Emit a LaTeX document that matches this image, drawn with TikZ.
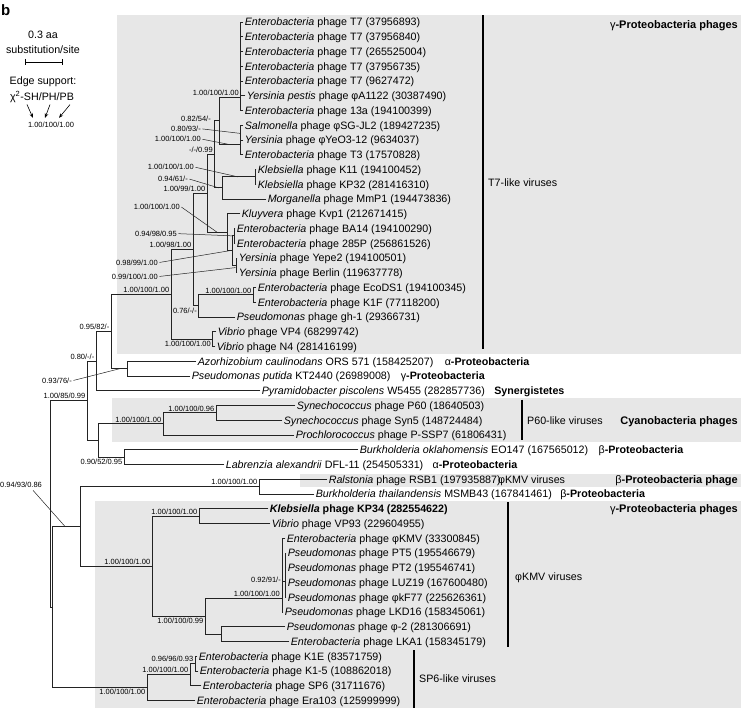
\documentclass[tikz,border=0pt]{standalone}
\usepackage{fontspec}
\setmainfont{Liberation Sans}
\usetikzlibrary{arrows.meta}
\definecolor{boxgray}{RGB}{231,231,231}
\definecolor{brc}{RGB}{35,35,35}
\newcommand\lfnode[5]{%
  \coordinate (#1) at (#3,#4);
  \draw[br] (#2) |- (#1);
  \node[leaf] (#1t) at ([xshift=1.6pt]#1) {#5};}
\begin{document}
\begin{tikzpicture}[x=1pt, y=-14.75pt,
  br/.style={draw=brc, line width=0.9pt, line cap=rect},
  ld/.style={draw=brc, line width=0.5pt},
  leaf/.style={anchor=base west, inner sep=0pt, yshift=-3.8pt, font=\fontsize{10.7}{12}\selectfont},
  sa/.style={anchor=base east, inner sep=0pt, yshift=1.8pt, font=\fontsize{7.5}{8}\selectfont},
  sb/.style={anchor=base east, inner sep=0pt, yshift=-7.3pt, font=\fontsize{7.5}{8}\selectfont},
  sc/.style={anchor=east, inner sep=0pt, font=\fontsize{7.5}{8}\selectfont},
  tax/.style={anchor=base west, inner sep=0pt, font=\fontsize{10.7}{12}\selectfont\bfseries},
  grp/.style={anchor=base east, inner sep=0pt, yshift=-3.8pt, font=\fontsize{11}{12}\selectfont\bfseries},
  vir/.style={anchor=base west, inner sep=0pt, yshift=-3.8pt, font=\fontsize{10.7}{12}\selectfont},
  vir2/.style={anchor=base west, inner sep=0pt, font=\fontsize{10.7}{12}\selectfont},
  bar/.style={draw=black, line width=1.9pt},
  leg/.style={inner sep=0pt, font=\fontsize{10.7}{12}\selectfont}]
\path[use as bounding box] (0,-1.4915) rectangle (741,46.508);
% grey panels
\fill[boxgray] (117,-0.475) rectangle (741,22.5);
\fill[boxgray] (112,25.5) rectangle (741,28.45);
\fill[boxgray] (300,30.65) rectangle (741,31.5);
\fill[boxgray] (95,32.5) rectangle (741,46.508);
% legend
\node[anchor=base west, inner sep=0pt, font=\fontsize{15}{16}\selectfont\bfseries] (pb) at (1,-0.45) {b};
\node[leg] (sc1) at (43,0.88) {0.3 aa};
\node[leg] (sc2) at (43,1.9) {substitution/site};
\coordinate (sbL) at (25,2.71); \coordinate (sbR) at (62,2.71);
\draw[line width=0.9pt] (sbL) -- (sbR);
\draw[line width=0.9pt] ([yshift=3pt]sbL) -- ([yshift=-3pt]sbL);
\draw[line width=0.9pt] ([yshift=3pt]sbR) -- ([yshift=-3pt]sbR);
\node[leg] (es1) at (43,4.07) {Edge support:};
\node[leg] (es2) at (42,5.08) {χ\textsuperscript{2}-SH/PH/PB};
\node[inner sep=0pt, font=\fontsize{7.5}{8}\selectfont] (es3) at (51,6.98) {1.00/100/1.00};
\coordinate (a1s) at (27,5.6); \coordinate (a1e) at (33,6.5);
\coordinate (a2s) at (50,5.6); \coordinate (a2e) at (45,6.5);
\coordinate (a3s) at (70,5.6); \coordinate (a3e) at (59,6.5);
\foreach \p in {1,2,3}{\draw[line width=0.6pt, -{Stealth[length=4.5pt,width=3.5pt]}] (a\p s) -- (a\p e);}
% internal nodes
\coordinate (B1) at (50,32.67);
\coordinate (A3) at (87,25.68);
\coordinate (A2) at (96,22.99);
\coordinate (A1) at (111,20.983);
\coordinate (R) at (171,18.466);
\coordinate (X) at (193,15.431);
\coordinate (Y) at (207,11.6125);
\coordinate (Z) at (214,8.975);
\coordinate (N1) at (219,6.7);
\coordinate (T7g) at (240,5.1);
\coordinate (Bc) at (240,8.3);
\coordinate (KM) at (222,11.25);
\coordinate (Kp) at (255,10.5);
\coordinate (K) at (227,14.25);
\coordinate (BA) at (232,15.5);
\coordinate (BAp) at (234,14.5);
\coordinate (YBp) at (236,16.5);
\coordinate (L) at (198,19.25);
\coordinate (EKp) at (253,18.5);
\coordinate (Vp) at (212,21.5);
\coordinate (AP) at (127,23.5);
\coordinate (A4) at (98,28.375);
\coordinate (P60c) at (163,27.25);
\coordinate (PSp) at (216,26.5);
\coordinate (BLp) at (124,29.5);
\coordinate (B2) at (52,39.66);
\coordinate (E) at (80,34.2);
\coordinate (RSp) at (259,31.5);
\coordinate (C) at (152,36.9);
\coordinate (KVp) at (199,33.5);
\coordinate (D) at (205,40.3);
\coordinate (G) at (282,39.1);
\coordinate (H) at (285,37.9);
\coordinate (FLp) at (221,41.5);
\coordinate (S) at (147,45.125);
\coordinate (T) at (190,44.25);
\coordinate (Pp) at (195,43.5);
% internal edges
\foreach \a/\b in {B1/A3,B1/B2,A3/A2,A3/A4,A2/A1,A1/R,A1/AP,R/X,R/Vp,X/Y,X/L,Y/Z,Y/K,Z/N1,Z/KM,N1/T7g,N1/Bc,KM/Kp,K/BA,BA/BAp,BA/YBp,L/EKp,A4/P60c,A4/BLp,P60c/PSp,B2/E,B2/S,E/RSp,E/C,C/KVp,C/D,D/G,D/FLp,G/H,S/T,T/Pp}
  {\draw[br] (\a) |- (\b);}
% leaves
\lfnode{l0}{T7g}{243}{0}{\textit{Enterobacteria} phage T7 (37956893)}
\lfnode{l1}{T7g}{243}{1}{\textit{Enterobacteria} phage T7 (37956840)}
\lfnode{l2}{T7g}{243}{2}{\textit{Enterobacteria} phage T7 (265525004)}
\lfnode{l3}{T7g}{243}{3}{\textit{Enterobacteria} phage T7 (37956735)}
\lfnode{l4}{T7g}{243}{4}{\textit{Enterobacteria} phage T7 (9627472)}
\lfnode{l5}{T7g}{245}{5}{\textit{Yersinia pestis} phage φA1122 (30387490)}
\lfnode{l6}{T7g}{243}{6}{\textit{Enterobacteria} phage 13a (194100399)}
\lfnode{l7}{Bc}{243}{7}{\textit{Salmonella} phage φSG-JL2 (189427235)}
\lfnode{l8}{Bc}{243}{8}{\textit{Yersinia} phage φYeO3-12 (9634037)}
\lfnode{l9}{Bc}{243}{9}{\textit{Enterobacteria} phage T3 (17570828)}
\lfnode{l10}{Kp}{256}{10}{\textit{Klebsiella} phage K11 (194100452)}
\lfnode{l11}{Kp}{256}{11}{\textit{Klebsiella} phage KP32 (281416310)}
\lfnode{l12}{KM}{266}{12}{\textit{Morganella} phage MmP1 (194473836)}
\lfnode{l13}{K}{240}{13}{\textit{Kluyvera} phage Kvp1 (212671415)}
\lfnode{l14}{BAp}{235}{14}{\textit{Enterobacteria} phage BA14 (194100290)}
\lfnode{l15}{BAp}{235}{15}{\textit{Enterobacteria} phage 285P (256861526)}
\lfnode{l16}{YBp}{237}{16}{\textit{Yersinia} phage Yepe2 (194100501)}
\lfnode{l17}{YBp}{237}{17}{\textit{Yersinia} phage Berlin (119637778)}
\lfnode{l18}{EKp}{256}{18}{\textit{Enterobacteria} phage EcoDS1 (194100345)}
\lfnode{l19}{EKp}{256}{19}{\textit{Enterobacteria} phage K1F (77118200)}
\lfnode{l20}{L}{235}{20}{\textit{Pseudomonas} phage gh-1 (29366731)}
\lfnode{l21}{Vp}{216}{21}{\textit{Vibrio} phage VP4 (68299742)}
\lfnode{l22}{Vp}{215}{22}{\textit{Vibrio} phage N4 (281416199)}
\lfnode{l23}{AP}{196}{23}{\textit{Azorhizobium caulinodans} ORS 571 (158425207)}
\lfnode{l24}{AP}{190}{24}{\textit{Pseudomonas putida} KT2440 (26989008)}
\lfnode{l25}{A2}{260}{25}{\textit{Pyramidobacter piscolens} W5455 (282857736)}
\lfnode{l26}{PSp}{295}{26}{\textit{Synechococcus} phage P60 (18640503)}
\lfnode{l27}{PSp}{282}{27}{\textit{Synechococcus} phage Syn5 (148724484)}
\lfnode{l28}{P60c}{294}{28}{\textit{Prochlorococcus} phage P-SSP7 (61806431)}
\lfnode{l29}{BLp}{358}{29}{\textit{Burkholderia oklahomensis} EO147 (167565012)}
\lfnode{l30}{BLp}{224}{30}{\textit{Labrenzia alexandrii} DFL-11 (254505331)}
\lfnode{l31}{RSp}{327}{31}{\textit{Ralstonia} phage RSB1 (197935887)}
\lfnode{l32}{RSp}{314}{32}{\textit{Burkholderia thailandensis} MSMB43 (167841461)}
\lfnode{l33}{KVp}{268}{33}{\textbf{\textit{Klebsiella} phage KP34 (282554622)}}
\lfnode{l34}{KVp}{270}{34}{\textit{Vibrio} phage VP93 (229604955)}
\lfnode{l35}{G}{285}{35}{\textit{Enterobacteria} phage φKMV (33300845)}
\lfnode{l36}{H}{286}{36}{\textit{Pseudomonas} phage PT5 (195546679)}
\lfnode{l37}{H}{286}{37}{\textit{Pseudomonas} phage PT2 (195546741)}
\lfnode{l38}{H}{286}{38}{\textit{Pseudomonas} phage LUZ19 (167600480)}
\lfnode{l39}{H}{286}{39}{\textit{Pseudomonas} phage φkF77 (225626361)}
\lfnode{l40}{G}{283}{40}{\textit{Pseudomonas} phage LKD16 (158345061)}
\lfnode{l41}{FLp}{285}{41}{\textit{Pseudomonas} phage φ-2 (281306691)}
\lfnode{l42}{FLp}{289}{42}{\textit{Enterobacteria} phage LKA1 (158345179)}
\lfnode{l43}{Pp}{197}{43}{\textit{Enterobacteria} phage K1E (83571759)}
\lfnode{l44}{Pp}{198}{44}{\textit{Enterobacteria} phage K1-5 (108862018)}
\lfnode{l45}{T}{201}{45}{\textit{Enterobacteria} phage SP6 (31711676)}
\lfnode{l46}{S}{195}{46}{\textit{Enterobacteria} phage Era103 (125999999)}
% support values
\node[sa] (s1) at (239,5.1) {1.00/100/1.00};
\node[sc] (s2) at (211,6.55) {0.82/54/-};
\node[sc] (s3) at (201,7.25) {0.80/93/-};
\coordinate (s3e) at (240,7.55); \draw[ld] ([xshift=1.5pt]s3.east) -- (s3e);
\node[sc] (s4) at (201,7.95) {1.00/100/1.00};
\coordinate (s4e) at (229,8.3); \draw[ld] ([xshift=1.5pt]s4.east) -- (s4e);
\node[sa] (s5) at (213,8.975) {-/-/0.99};
\node[sc] (s6) at (194,9.85) {1.00/100/1.00};
\coordinate (s6e) at (238,10.5); \draw[ld] ([xshift=1.5pt]s6.east) -- (s6e);
\node[sc] (s7) at (188,10.65) {0.94/61/-};
\coordinate (s7e) at (219,11.25); \draw[ld] ([xshift=1.5pt]s7.east) -- (s7e);
\node[sa] (s8) at (205.5,11.6125) {1.00/99/1.00};
\node[sc] (s9) at (180,12.55) {1.00/100/1.00};
\coordinate (s9e) at (217,14.25); \draw[ld] ([xshift=1.5pt]s9.east) -- (s9e);
\node[sc] (s10) at (177,14.35) {0.94/98/0.95};
\coordinate (s10e) at (233,14.5); \draw[ld] ([xshift=1.5pt]s10.east) -- (s10e);
\node[sa] (s11) at (191.5,15.431) {1.00/98/1.00};
\node[sc] (s12) at (158,16.3) {0.98/99/1.00};
\coordinate (s12e) at (230,15.5); \draw[ld] ([xshift=1.5pt]s12.east) -- (s12e);
\node[sc] (s13) at (158,17.25) {0.99/100/1.00};
\coordinate (s13e) at (235.5,16.65); \draw[ld] ([xshift=1.5pt]s13.east) -- (s13e);
\node[sa] (s14) at (169.5,18.466) {1.00/100/1.00};
\node[sa] (s15) at (251.5,18.5) {1.00/100/1.00};
\node[sb] (s16) at (197,19.25) {0.76/-/-};
\node[sb] (s17) at (211,21.5) {1.00/100/1.00};
\node[sa] (s18) at (109.5,20.983) {0.95/82/-};
\node[sa] (s19) at (94.5,22.99) {0.80/-/-};
\node[sc] (s20) at (72,24.3) {0.93/76/-};
\coordinate (s20e) at (120,23.5); \draw[ld] ([xshift=1.5pt]s20.east) -- (s20e);
\node[sa] (s21) at (85.5,25.68) {1.00/85/0.99};
\node[sa] (s22) at (214.5,26.5) {1.00/100/0.96};
\node[sa] (s23) at (161.5,27.25) {1.00/100/1.00};
\node[sb] (s24) at (122.5,29.5) {0.90/52/0.95};
\node[sa] (s25) at (257.5,31.5) {1.00/100/1.00};
\node[anchor=west, inner sep=0pt, font=\fontsize{7.5}{8}\selectfont] (s26) at (0,31.35) {0.94/93/0.86};
\coordinate (s26s) at (33,31.75); \coordinate (s26e) at (65,34.2); \draw[ld] (s26s) -- (s26e);
\node[sa] (s27) at (197.5,33.5) {1.00/100/1.00};
\node[sa] (s28) at (150.5,36.9) {1.00/100/1.00};
\node[sc] (s29) at (281,37.85) {0.92/91/-};
\node[sa] (s30) at (280,39.1) {1.00/100/1.00};
\node[sb] (s31) at (203.5,40.3) {1.00/100/0.99};
\node[sa] (s32) at (193.5,43.5) {0.96/96/0.93};
\node[sa] (s33) at (188.5,44.25) {1.00/100/1.00};
\node[sb] (s34) at (145.5,45.125) {1.00/100/1.00};
% taxonomy notes
\node[tax] (x23) at ([xshift=11pt]l23t.base east) {{\mdseries α}-Proteobacteria};
\node[tax] (x24) at ([xshift=10pt]l24t.base east) {{\mdseries γ}-Proteobacteria};
\node[tax] (x25) at ([xshift=9pt]l25t.base east) {Synergistetes};
\node[tax] (x29) at ([xshift=10pt]l29t.base east) {{\mdseries β}-Proteobacteria};
\node[tax] (x30) at ([xshift=9pt]l30t.base east) {{\mdseries α}-Proteobacteria};
\node[tax] (x32) at ([xshift=8pt]l32t.base east) {{\mdseries β}-Proteobacteria};
% clade bars
\coordinate (bT1) at (483,-0.45); \coordinate (bT2) at (483,22.15);
\draw[bar] (bT1) -- (bT2);
\node[vir] (vT) at (488,10.9) {T7-like viruses};
\coordinate (bP1) at (522,25.6); \coordinate (bP2) at (522,28.35);
\draw[bar] (bP1) -- (bP2);
\node[vir] (vP) at (527,27) {P60-like viruses};
\coordinate (bK1) at (508,32.55); \coordinate (bK2) at (508,42.4);
\draw[bar] (bK1) -- (bK2);
\node[vir] (vK) at (515,37.6) {φKMV viruses};
\node[vir2] (vK2) at ([xshift=-3pt]l31t.base east) {φKMV viruses};
\coordinate (bS1) at (414,42.6); \coordinate (bS2) at (414,46.508);
\draw[bar] (bS1) -- (bS2);
\node[vir] (vS) at (419,44.5) {SP6-like viruses};
% host group captions
\node[grp] (g1) at (738,0.15) {{\mdseries γ}-Proteobacteria phages};
\node[grp] (g2) at (738,27) {Cyanobacteria phages};
\node[grp] (g3) at (738,31) {{\mdseries β}-Proteobacteria phage};
\node[grp] (g4) at (738,33) {{\mdseries γ}-Proteobacteria phages};
\end{tikzpicture}
\end{document}
